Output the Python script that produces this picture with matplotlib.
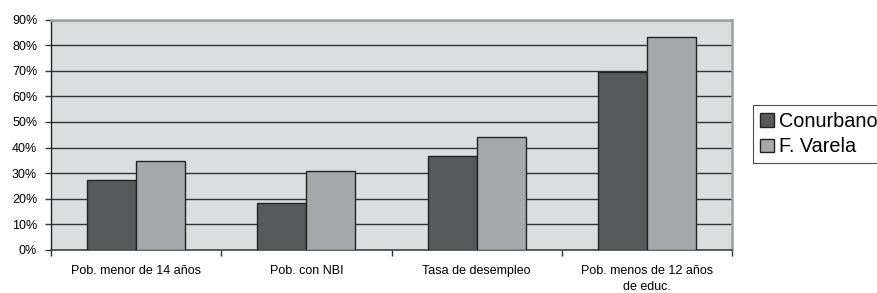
import numpy as np
import matplotlib
matplotlib.use("Agg")
import matplotlib.pyplot as plt
from matplotlib.ticker import FuncFormatter

# --- data ---
categories = ["Pob. menor de 14 años", "Pob. con NBI", "Tasa de desempleo",
              "Pob. menos de 12 años\nde educ."]
conurbano = [27.3, 18.3, 36.8, 69.6]
varela = [34.6, 30.8, 44.3, 83.1]
series_names = ["Conurbano", "F. Varela"]

plt.rcParams['font.family'] = ['Liberation Sans', 'DejaVu Sans']

fig = plt.figure(figsize=(8.77, 2.93), dpi=100)
ax = fig.add_axes([0.0582, 0.1468, 0.8765 - 0.0582 - 0.0418, 0.9334 - 0.1468])

x = np.arange(len(categories))
w = 0.288
ax.bar(x - w / 2, conurbano, w, color="#58595b", edgecolor="#222222",
       linewidth=1.0, label=series_names[0], zorder=3)
ax.bar(x + w / 2, varela, w, color="#a7a8ab", edgecolor="#222222",
       linewidth=1.0, label=series_names[1], zorder=3)

ax.set_facecolor("#dcdddf")
ax.set_xlim(-0.5, len(categories) - 0.5)
ax.set_ylim(0, 90)
ax.set_yticks(np.arange(0, 91, 10))
ax.yaxis.set_major_formatter(FuncFormatter(lambda v, p: f"{int(v)}%"))
ax.grid(axis="y", color="#333333", linewidth=1.0, zorder=1)
ax.set_axisbelow(True)

# category labels centred, ticks on the boundaries
ax.set_xticks(x)
ax.set_xticklabels(categories, fontsize=9, linespacing=1.45)
ax.set_xticks(np.arange(-0.5, len(categories)), minor=True)
ax.tick_params(axis="x", which="major", length=0, pad=11)
ax.tick_params(axis="x", which="minor", length=4, width=1, color="#333333")
ax.tick_params(axis="y", length=4, width=1, color="#333333", labelsize=9, pad=6)

for side in ["top", "right"]:
    ax.spines[side].set_color("#a0a0a2")
    ax.spines[side].set_linewidth(1.8)
ax.spines["left"].set_color("#222222")
ax.spines["left"].set_linewidth(1.0)
ax.spines["bottom"].set_color("#444444")
ax.spines["bottom"].set_linewidth(1.2)

leg = fig.legend(loc="center left", bbox_to_anchor=(0.8586, 0.5427),
                 fontsize=14.3, frameon=True, fancybox=False, handlelength=0.7,
                 handleheight=0.7, handletextpad=0.25, borderpad=0.35,
                 labelspacing=0.35, borderaxespad=0)
leg.get_frame().set_edgecolor("#222222")
leg.get_frame().set_linewidth(0.8)

fig.savefig("out.png", dpi=100)
